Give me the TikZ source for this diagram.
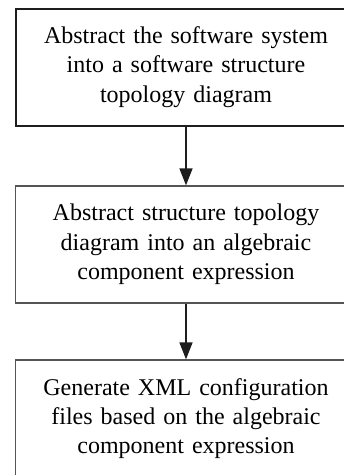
\documentclass[tikz,border=0pt]{standalone}
\usepackage{fontspec}
\setmainfont{Liberation Serif}
\usetikzlibrary{arrows.meta}
\definecolor{framedark}{HTML}{1E1E1E}
\definecolor{framegray}{HTML}{555555}
\begin{document}
\begin{tikzpicture}[x=1pt,y=-1pt,
  stepbox/.style={rectangle, minimum width=341pt, minimum height=117pt,
    text width=320pt, align=center, inner sep=0pt,
    font=\fontsize{24}{29.3}\selectfont},
  flowarrow/.style={draw=framedark, line width=1.6pt,
    -{Triangle[width=13pt,length=17pt]}}]
\useasboundingbox (0,0) rectangle (344,475);
\clip (0,0) rectangle (344,475);
% process steps
\node[stepbox, draw=framedark, line width=2pt] (s1) at (186,67)
  {Abstract the software system\\into a software structure\\topology diagram};
\node[stepbox, draw=framegray, line width=1.3pt] (s2) at (186,244.5)
  {Abstract structure topology\\diagram into an algebraic\\component expression};
\node[stepbox, draw=framegray, line width=1.3pt] (s3) at (186,418.5)
  {Generate XML configuration\\files based on the algebraic\\component expression};
% connectors
\draw[flowarrow] (s1) -- (s2);
\draw[flowarrow] (s2) -- (s3);
\end{tikzpicture}
\end{document}
